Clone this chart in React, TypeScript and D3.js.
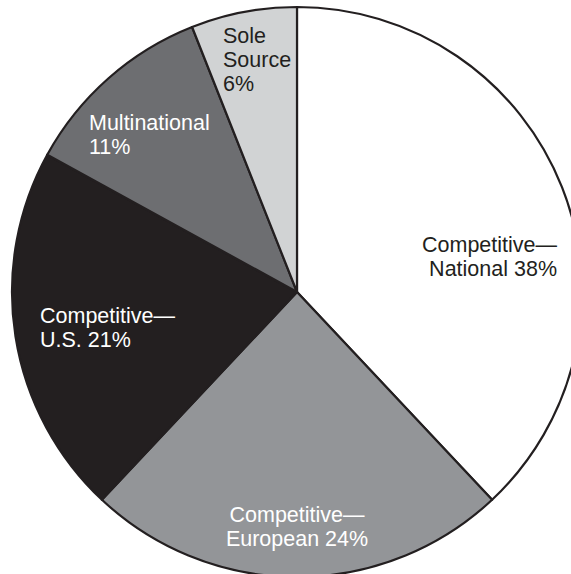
import React from "react";
import * as d3 from "d3";

const categories = ["Competitive—National", "Competitive—European", "Competitive—U.S.", "Multinational", "Sole Source"];
const values = [38, 24, 21, 11, 6];
const colors = ["#ffffff", "#939598", "#231f20", "#6d6e71", "#d1d3d4"];
const labelLines = [
  ["Competitive—", "National 38%"],
  ["Competitive—", "European 24%"],
  ["Competitive—", "U.S. 21%"],
  ["Multinational", "11%"],
  ["Sole", "Source", "6%"],
];
const labelColors = ["#231f20", "#ffffff", "#ffffff", "#ffffff", "#231f20"];
const labelAnchors = ["end", "middle", "start", "start", "start"];
const labelPos = [
  [557, 252],
  [297, 522],
  [40, 323],
  [89, 130],
  [223, 43],
];

export default function App() {
  const W = 571;
  const H = 574;
  const cx = 297;
  const cy = 292;
  const r = 285;
  const pie = d3.pie<number>().sort(null).value((d) => d);
  const arcs = pie(values);
  const arc = d3.arc<d3.PieArcDatum<number>>().innerRadius(0).outerRadius(r);
  const lineH = 24;
  return (
    <svg
      width={W}
      height={H}
      style={{ position: "absolute", left: 0, top: 0, background: "#fff" }}
    >
      <g transform={`translate(${cx},${cy})`}>
        {arcs.map((a, i) => (
          <path
            key={categories[i]}
            d={arc(a) || ""}
            fill={colors[i]}
            stroke="#231f20"
            strokeWidth={2.2}
            strokeLinejoin="round"
          />
        ))}
      </g>
      {labelLines.map((lines, i) => (
        <text
          key={i}
          x={labelPos[i][0]}
          y={labelPos[i][1]}
          fill={labelColors[i]}
          textAnchor={labelAnchors[i] as any}
          fontFamily="'Liberation Sans', Arial, Helvetica, sans-serif"
          fontSize={21.5}
        >
          {lines.map((l, j) => (
            <tspan key={j} x={labelPos[i][0]} dy={j === 0 ? 0 : lineH}>
              {l}
            </tspan>
          ))}
        </text>
      ))}
    </svg>
  );
}
